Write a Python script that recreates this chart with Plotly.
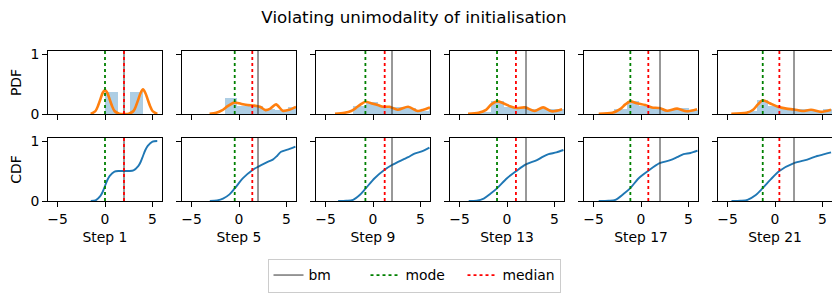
import numpy as np
import plotly.graph_objects as go

# ---------------- data ----------------
steps = [1, 5, 9, 13, 17, 21]
bm_vals = [2.0, 2.0, 2.0, 2.0, 2.0, 2.0]
mode_vals = [0.0, -0.45, -0.8, -1.05, -1.12, -1.29]
median_vals = [2.0, 1.4, 1.23, 0.94, 0.77, 0.46]

# KDE (PDF) curves
pdf_x_1 = [-1.5, -1.0, -0.75, -0.5, -0.25, 0, 0.25, 0.5, 0.75, 1.0, 1.5, 2.0, 2.5, 3.0, 3.25, 3.5, 3.75, 4.0, 4.25, 4.5, 4.75, 5.0, 5.5]
pdf_y_1 = [0.0, 0.05, 0.13, 0.24, 0.35, 0.40, 0.35, 0.24, 0.13, 0.05, 0.005, 0.0, 0.005, 0.05, 0.13, 0.24, 0.35, 0.41, 0.35, 0.24, 0.13, 0.05, 0.0]
pdf_x_5 = [-3.1, -2.4, -1.8, -1.2, -0.5, 0.2, 0.9, 1.6, 2.2, 2.8, 3.3, 3.9, 4.6, 5.3, 6.0]
pdf_y_5 = [0.005, 0.02, 0.06, 0.13, 0.19, 0.17, 0.15, 0.14, 0.12, 0.065, 0.09, 0.16, 0.055, 0.07, 0.12]
pdf_x_9 = [-4.0, -3.0, -2.3, -1.8, -1.3, -0.8, -0.2, 0.5, 1.05, 1.75, 2.6, 3.7, 4.7, 5.3, 6.0]
pdf_y_9 = [0.005, 0.02, 0.05, 0.10, 0.16, 0.205, 0.18, 0.15, 0.12, 0.12, 0.07, 0.12, 0.05, 0.07, 0.11]
pdf_x_13 = [-4.1, -3.0, -2.2, -1.65, -1.05, -0.4, 0.3, 1.0, 1.9, 2.9, 3.8, 4.7, 5.8]
pdf_y_13 = [0.005, 0.02, 0.07, 0.16, 0.21, 0.18, 0.13, 0.10, 0.11, 0.05, 0.11, 0.045, 0.08]
pdf_x_17 = [-4.45, -3.0, -2.2, -1.65, -1.12, -0.45, 0.45, 1.15, 1.95, 2.75, 3.8, 4.8, 5.9]
pdf_y_17 = [0.005, 0.02, 0.08, 0.16, 0.21, 0.18, 0.15, 0.11, 0.10, 0.055, 0.09, 0.045, 0.08]
pdf_x_21 = [-4.6, -3.0, -2.3, -1.8, -1.3, -0.55, 0.3, 1.2, 2.0, 2.9, 3.8, 4.85, 5.9]
pdf_y_21 = [0.005, 0.02, 0.07, 0.16, 0.23, 0.18, 0.12, 0.09, 0.075, 0.05, 0.07, 0.035, 0.07]

# histogram bins (edges) and densities
hist_edges_1 = [0.0, 1.333, 2.667, 4.0]
hist_dens_1 = [0.375, 0.0, 0.375]
hist_edges_5 = [-1.5, -0.17, 1.17, 2.5, 3.83, 5.17, 6.5]
hist_dens_5 = [0.26, 0.13, 0.13, 0.08, 0.07, 0.11]
hist_edges_9 = [-2.1, -0.77, 0.57, 1.9, 3.23, 4.57, 5.9, 7.23]
hist_dens_9 = [0.14, 0.20, 0.13, 0.11, 0.10, 0.05, 0.09]
hist_edges_13 = [-3.0, -1.65, -0.3, 1.05, 2.4, 3.75, 5.1, 6.45]
hist_dens_13 = [0.03, 0.22, 0.12, 0.10, 0.08, 0.09, 0.08]
hist_edges_17 = [-2.8, -1.5, -0.2, 1.1, 2.4, 3.7, 5.0, 6.3]
hist_dens_17 = [0.09, 0.22, 0.13, 0.10, 0.06, 0.10, 0.07]
hist_edges_21 = [-3.0, -1.85, -0.7, 0.45, 1.6, 2.75, 3.9, 5.05, 6.2]
hist_dens_21 = [0.05, 0.24, 0.13, 0.09, 0.08, 0.09, 0.05, 0.08]

# CDF curves
cdf_x_1 = [-1.5, -1.0, -0.5, -0.25, 0, 0.25, 0.5, 1.0, 1.5, 2.5, 3.0, 3.5, 3.75, 4.0, 4.25, 4.5, 5.0, 5.5]
cdf_y_1 = [0.0, 0.01, 0.08, 0.15, 0.25, 0.35, 0.42, 0.49, 0.5, 0.5, 0.51, 0.58, 0.65, 0.75, 0.85, 0.92, 0.99, 1.0]
cdf_x_5 = [-3.07, -2.3, -1.68, -1.0, -0.45, 0.42, 1.47, 2.0, 2.86, 3.56, 4.0, 4.43, 5.2, 5.94]
cdf_y_5 = [0.0, 0.01, 0.04, 0.11, 0.21, 0.38, 0.52, 0.57, 0.64, 0.69, 0.75, 0.82, 0.86, 0.905]
cdf_x_9 = [-3.67, -2.8, -2.1, -1.4, -0.77, 0.17, 1.22, 1.99, 3.15, 3.7, 4.37, 5.2, 5.94]
cdf_y_9 = [0.0, 0.005, 0.02, 0.1, 0.21, 0.38, 0.52, 0.6, 0.69, 0.73, 0.79, 0.83, 0.89]
cdf_x_13 = [-4.03, -3.2, -2.45, -1.75, -1.05, 0.0, 0.98, 1.99, 3.15, 3.8, 4.37, 5.2, 5.94]
cdf_y_13 = [0.0, 0.005, 0.04, 0.12, 0.21, 0.38, 0.5, 0.61, 0.68, 0.74, 0.78, 0.81, 0.85]
cdf_x_17 = [-4.45, -3.4, -2.7, -1.82, -1.15, -0.24, 0.74, 1.96, 3.08, 3.8, 4.48, 5.2, 5.95]
cdf_y_17 = [0.0, 0.005, 0.02, 0.12, 0.21, 0.38, 0.5, 0.63, 0.68, 0.73, 0.78, 0.80, 0.84]
cdf_x_21 = [-4.58, -3.6, -2.9, -2.02, -1.32, -0.45, 0.46, 2.0, 3.4, 4.44, 5.2, 5.9]
cdf_y_21 = [0.0, 0.005, 0.02, 0.1, 0.21, 0.36, 0.5, 0.63, 0.69, 0.75, 0.78, 0.81]

x_ticks = [-5, 0, 5]
x_tick_labels = ["\u22125", "0", "5"]
y_ticks = [0, 1]
y_tick_labels = ["0", "1"]

pdf_x = [pdf_x_1, pdf_x_5, pdf_x_9, pdf_x_13, pdf_x_17, pdf_x_21]
pdf_y = [pdf_y_1, pdf_y_5, pdf_y_9, pdf_y_13, pdf_y_17, pdf_y_21]
hist_edges = [hist_edges_1, hist_edges_5, hist_edges_9, hist_edges_13, hist_edges_17, hist_edges_21]
hist_dens = [hist_dens_1, hist_dens_5, hist_dens_9, hist_dens_13, hist_dens_17, hist_dens_21]
cdf_x = [cdf_x_1, cdf_x_5, cdf_x_9, cdf_x_13, cdf_x_17, cdf_x_21]
cdf_y = [cdf_y_1, cdf_y_5, cdf_y_9, cdf_y_13, cdf_y_17, cdf_y_21]

# ---------------- layout geometry ----------------
W, H = 840, 298
OFF = 8  # page body margin offset
XMIN, XMAX = -6, 6
YMIN, YMAX = 0, 1.05
col_left = [48, 182, 316, 450, 584, 718]
col_w = 114
row_top = [51, 138]
row_h = 63

FONT = "DejaVu Sans"
FS = 13.9

fig = go.Figure()
layout = dict(
    width=W, height=H,
    margin=dict(l=0, r=0, t=0, b=0, autoexpand=False),
    paper_bgcolor="white", plot_bgcolor="white",
    font=dict(family=FONT, size=FS, color="black"),
    bargap=0,
    showlegend=True,
)

line_styles = {
    "bm": dict(color="#333333", width=1.0, dash="solid"),
    "mode": dict(color="#008000", width=1.8, dash="dot"),
    "median": dict(color="#ff0000", width=1.8, dash="dot"),
}

for r in range(2):
    for c in range(6):
        k = r * 6 + c + 1
        xa = "x" if k == 1 else f"x{k}"
        ya = "y" if k == 1 else f"y{k}"
        if r == 0:
            edges = np.array(hist_edges[c])
            centers = (edges[:-1] + edges[1:]) / 2
            widths = np.diff(edges)
            fig.add_trace(go.Bar(x=centers, y=hist_dens[c], width=widths,
                                 marker=dict(color="rgba(31,119,180,0.36)", line=dict(width=0)),
                                 xaxis=xa, yaxis=ya, showlegend=False, hoverinfo="skip"))
            fig.add_trace(go.Scatter(x=pdf_x[c], y=pdf_y[c], mode="lines",
                                     line=dict(color="#ff7f0e", width=2.6, shape="spline", smoothing=0.8),
                                     xaxis=xa, yaxis=ya, showlegend=False))
        else:
            fig.add_trace(go.Scatter(x=cdf_x[c], y=cdf_y[c], mode="lines",
                                     line=dict(color="#1f77b4", width=1.9, shape="spline", smoothing=0.8),
                                     xaxis=xa, yaxis=ya, showlegend=False))
        for name, val in (("bm", bm_vals[c]), ("mode", mode_vals[c]), ("median", median_vals[c])):
            fig.add_trace(go.Scatter(x=[val, val], y=[YMIN, YMAX], mode="lines",
                                     line=line_styles[name], name=name, legendgroup=name,
                                     showlegend=(k == 1), xaxis=xa, yaxis=ya))

        x0 = (col_left[c] - OFF) / W
        x1 = (col_left[c] + col_w - OFF) / W
        y1 = 1 - (row_top[r] - OFF) / H
        y0 = 1 - (row_top[r] + row_h - OFF) / H
        xkey = "xaxis" if k == 1 else f"xaxis{k}"
        ykey = "yaxis" if k == 1 else f"yaxis{k}"
        layout[xkey] = dict(
            domain=[x0, x1], anchor=ya, range=[XMIN, XMAX], automargin=False,
            tickmode="array", tickvals=x_ticks, ticktext=x_tick_labels,
            showticklabels=(r == 1), ticks="outside", ticklen=5, tickwidth=1, tickcolor="black",
            showline=True, linecolor="black", linewidth=1, mirror=True,
            showgrid=False, zeroline=False,
            tickfont=dict(family=FONT, size=FS, color="black"),
        )
        if r == 1:
            layout[xkey]["title"] = dict(text=f"Step {steps[c]}", font=dict(family=FONT, size=FS), standoff=6)
        layout[ykey] = dict(
            domain=[y0, y1], anchor=xa, range=[YMIN, YMAX], automargin=False,
            tickmode="array", tickvals=y_ticks, ticktext=y_tick_labels,
            showticklabels=(c == 0), ticks="outside", ticklen=5, tickwidth=1, tickcolor="black",
            showline=True, linecolor="black", linewidth=1, mirror=True,
            showgrid=False, zeroline=False,
            tickfont=dict(family=FONT, size=FS, color="black"),
        )
        if c == 0:
            layout[ykey]["title"] = dict(text="PDF" if r == 0 else "CDF", font=dict(family=FONT, size=FS), standoff=5)

layout["title"] = dict(text="Violating unimodality of initialisation",
                       x=(414 - OFF) / W, xanchor="center", y=1 - (17 - OFF) / H, yanchor="middle",
                       font=dict(family=FONT, size=16.7, color="black"))
layout["legend"] = dict(orientation="h", x=(414 - OFF) / W, xanchor="center",
                        y=1 - (275.5 - OFF) / H, yanchor="middle",
                        bordercolor="#cccccc", borderwidth=1, bgcolor="white",
                        font=dict(family=FONT, size=FS, color="black"),
                        traceorder="normal", entrywidth=52, entrywidthmode="pixels")
fig.update_layout(**layout)
fig.write_html("out.html")
